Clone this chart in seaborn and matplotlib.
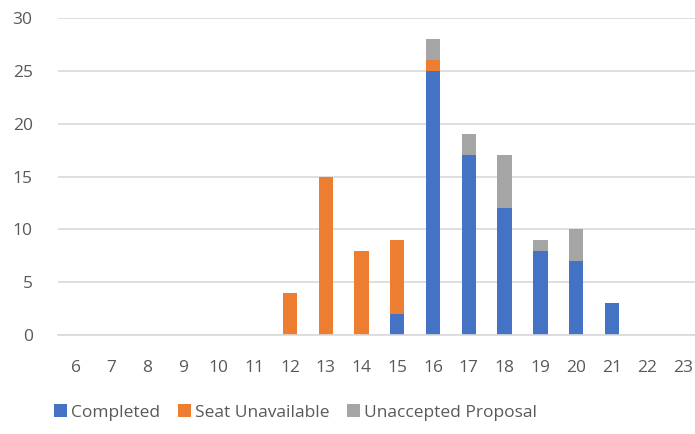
import numpy as np
import pandas as pd
import matplotlib.pyplot as plt
import seaborn as sns

categories = [str(i) for i in range(6, 24)]
completed = [0, 0, 0, 0, 0, 0, 0, 0, 0, 2, 25, 17, 12, 8, 7, 3, 0, 0]
seat_unavailable = [0, 0, 0, 0, 0, 0, 4, 15, 8, 7, 1, 0, 0, 0, 0, 0, 0, 0]
unaccepted = [0, 0, 0, 0, 0, 0, 0, 0, 0, 0, 2, 2, 5, 1, 3, 0, 0, 0]

series = ['Completed', 'Seat Unavailable', 'Unaccepted Proposal']
colors = ['#4472C4', '#ED7D31', '#A5A5A5']

df = pd.DataFrame({'cat': categories, 'Completed': completed,
                   'Seat Unavailable': seat_unavailable,
                   'Unaccepted Proposal': unaccepted})

sns.set_style('white')
plt.rcParams['font.family'] = ['Open Sans', 'DejaVu Sans']

fig = plt.figure(figsize=(6.95, 4.34), dpi=100)
ax = fig.add_axes([0.083, 0.228, 0.926, 0.7305])

bottom = np.zeros(len(categories))
for name, col in zip(series, colors):
    sns.barplot(data=df, x='cat', y=name, order=categories, color=col,
                saturation=1, width=0.4, bottom=bottom, ax=ax, label=name,
                linewidth=0)
    bottom = bottom + df[name].values

ax.set_ylim(0, 30)
ax.set_yticks(range(0, 31, 5))
ax.set_xlim(-0.5, len(categories) - 0.5)
ax.yaxis.grid(True, color='#D9D9D9', linewidth=1.2)
ax.set_axisbelow(True)
for s in ['top', 'right', 'left']:
    ax.spines[s].set_visible(False)
ax.spines['bottom'].set_color('#D9D9D9')
ax.spines['bottom'].set_linewidth(1.2)
ax.set_xlabel('')
ax.set_ylabel('')
ax.tick_params(axis='both', length=0, labelsize=12.5, colors='#595959')
ax.tick_params(axis='x', pad=18)
ax.tick_params(axis='y', pad=18)

handles, labels = ax.get_legend_handles_labels()
if ax.legend_:
    ax.legend_.remove()
fig.legend(handles, labels, loc='lower left', bbox_to_anchor=(0.055, -0.005),
           ncol=3, frameon=False, fontsize=12.5, handlelength=0.75,
           handleheight=0.75, handletextpad=0.25, columnspacing=1.0,
           labelcolor='#595959')

fig.savefig('out.png', dpi=100)
